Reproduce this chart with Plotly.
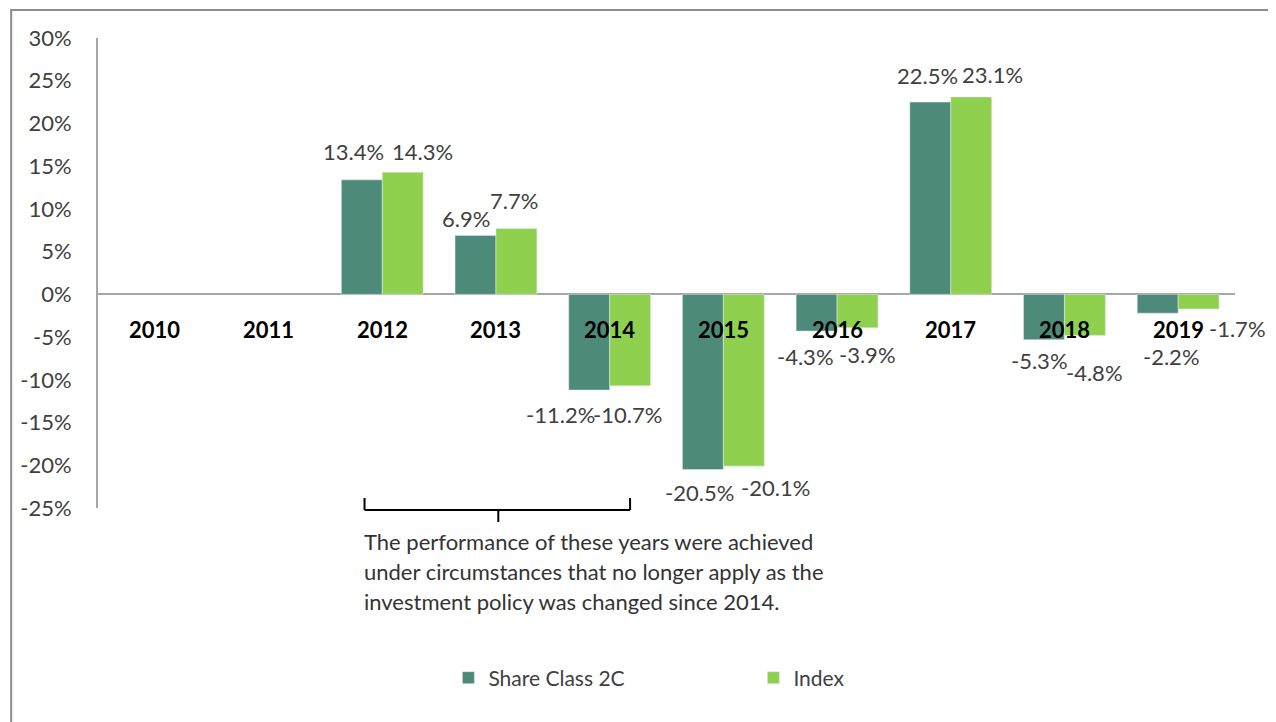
import plotly.graph_objects as go

years = ["2010", "2011", "2012", "2013", "2014", "2015", "2016", "2017", "2018", "2019"]
share_class = [None, None, 13.4, 6.9, -11.2, -20.5, -4.3, 22.5, -5.3, -2.2]
index_vals = [None, None, 14.3, 7.7, -10.7, -20.1, -3.9, 23.1, -4.8, -1.7]
tick_vals = [-25, -20, -15, -10, -5, 0, 5, 10, 15, 20, 25, 30]
tick_text = [f"{v}%" for v in tick_vals]
note_lines = [
    "The performance of these years were achieved",
    "under circumstances that no longer apply as the",
    "investment policy was changed since 2014.",
]

# data-label placement (pixel offsets of label centre from bar centre / bar end, as in the source)
share_dx = [0, 0, -8, -9, -29, -3, -11, -3, -4, 14]
share_dy = [0, 0, 28, 17, 24, 23, 25, 27, 21, 43]
index_dx = [0, 0, 20, -2, -3, 32, 10, 21, 10, 39]
index_dy = [0, 0, 21, 28, 29, 21, 27, 22, 37, 20]

DARK = "#4E8A79"
LIGHT = "#8FD14F"
FONT = "Lato"
TXT = "#404040"
HALF_BAR = 20.5  # px between group centre and each bar centre

fig = go.Figure()
fig.add_trace(go.Bar(x=years, y=share_class, name="Share Class 2C", marker_color=DARK))
fig.add_trace(go.Bar(x=years, y=index_vals, name="Index", marker_color=LIGHT))

annotations = []
for i, yr in enumerate(years):
    for v, side, dx, dy in ((share_class[i], -1, share_dx[i], share_dy[i]),
                            (index_vals[i], 1, index_dx[i], index_dy[i])):
        if v is None:
            continue
        annotations.append(dict(
            x=i, y=v, xref="x", yref="y", text=f"{v:.1f}%", showarrow=False,
            xanchor="center", yanchor="middle",
            xshift=side * HALF_BAR + dx, yshift=dy if v >= 0 else -dy,
            font=dict(family=FONT, size=22, color=TXT),
        ))
    annotations.append(dict(
        x=i, y=0, xref="x", yref="y", text=f"<b>{yr}</b>", showarrow=False,
        yshift=-35, font=dict(family=FONT, size=22, color="#000000"),
    ))

for i, line in enumerate(note_lines):
    annotations.append(dict(
        x=(360 - 96) / 1139, y=(508 - (541 + 30 * i)) / 470, xref="paper", yref="paper",
        text=line, showarrow=False, xanchor="left", yanchor="middle",
        font=dict(family=FONT, size=22, color="#333333"),
    ))

shapes = [
    dict(type="rect", xref="paper", yref="paper",
         x0=(9 - 96) / 1139, x1=(1272 - 96) / 1139,
         y0=(508 - 10) / 470, y1=(508 - 740) / 470,
         line=dict(color="#8c8c8c", width=2), fillcolor="rgba(0,0,0,0)"),
]
bx0, bx1, bxm = (363 - 96) / 1139, (629 - 96) / 1139, (497 - 96) / 1139
by_top, by_mid, by_bot = (508 - 498) / 470, (508 - 510) / 470, (508 - 522) / 470
for x0, y0, x1, y1 in [(bx0, by_mid, bx1, by_mid), (bx0, by_top, bx0, by_mid),
                       (bx1, by_top, bx1, by_mid), (bxm, by_mid, bxm, by_bot)]:
    shapes.append(dict(type="line", xref="paper", yref="paper", x0=x0, y0=y0, x1=x1, y1=y1,
                       line=dict(color="#000000", width=2)))

fig.update_layout(
    width=1268, height=714,
    margin=dict(l=88, r=41, t=30, b=214),
    paper_bgcolor="white", plot_bgcolor="white",
    barmode="group", bargap=0.28, bargroupgap=0,
    font=dict(family=FONT, size=22, color=TXT),
    showlegend=True,
    legend=dict(orientation="h", x=(447 - 96) / 1139, xanchor="left",
                y=(508 - 678) / 470, yanchor="middle",
                entrywidth=260, font=dict(family=FONT, size=21, color=TXT)),
    annotations=annotations,
    shapes=shapes,
)
fig.update_xaxes(type="category", range=[-0.5, len(years) - 0.5], showticklabels=False,
                 showline=False, showgrid=False, zeroline=False, ticks="")
fig.update_yaxes(range=[-25, 30], tickvals=tick_vals, ticktext=tick_text,
                 showgrid=False, showline=True, linecolor="#a6a6a6", linewidth=2,
                 zeroline=True, zerolinecolor="#a6a6a6", zerolinewidth=2,
                 ticks="", ticklabelstandoff=20,
                 tickfont=dict(family=FONT, size=22, color=TXT))

fig.write_html("out.html")
